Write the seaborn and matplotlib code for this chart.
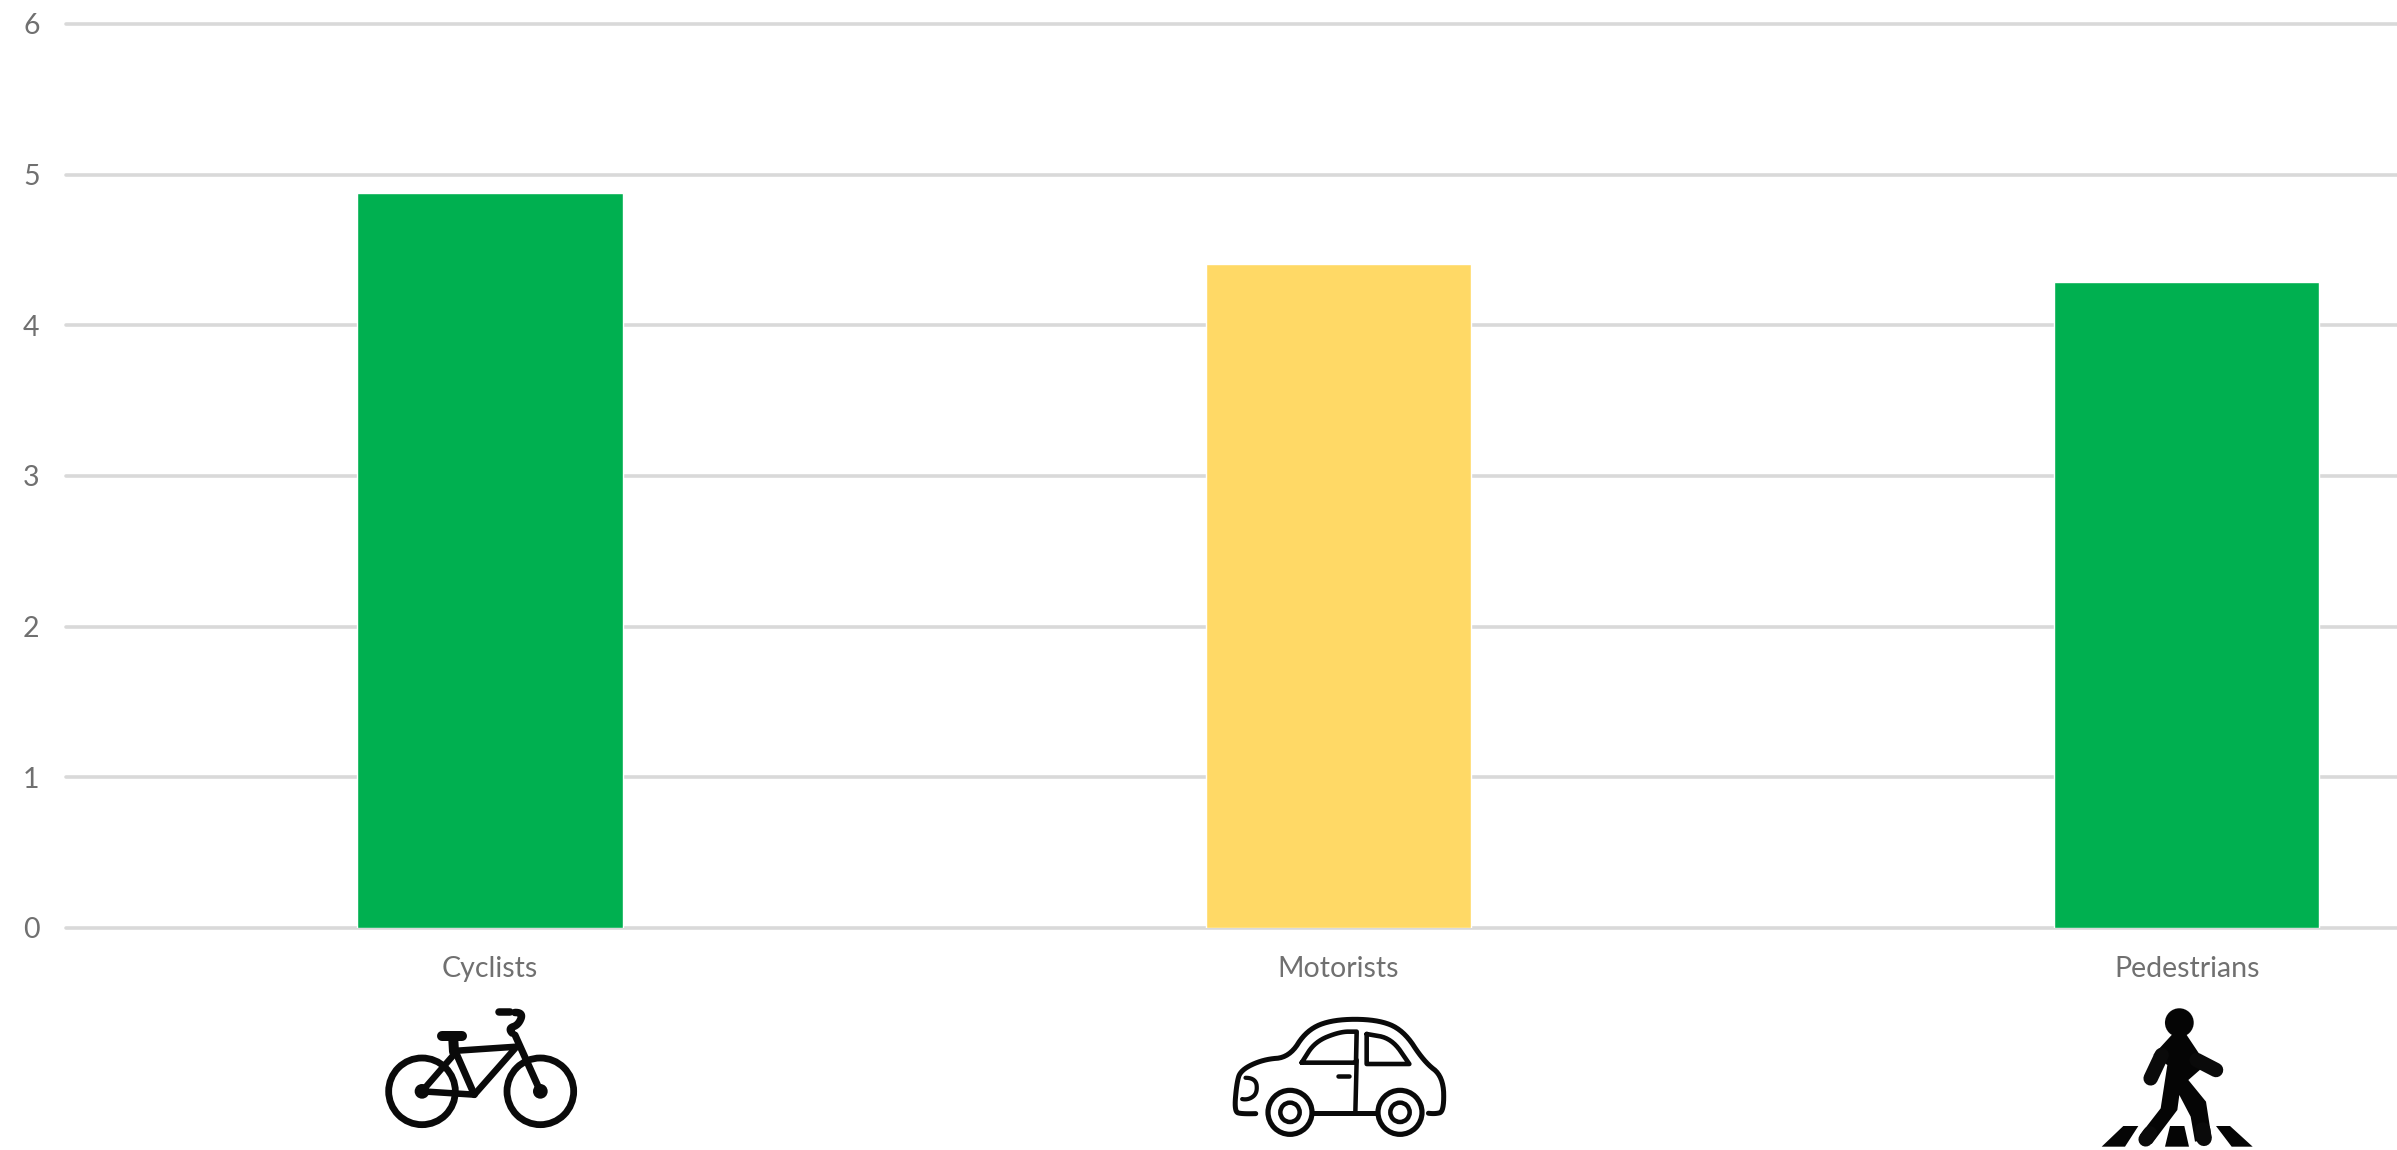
import numpy as np
import pandas as pd
import seaborn as sns
import matplotlib.pyplot as plt
from matplotlib.patches import Circle, Polygon

categories = ["Cyclists", "Motorists", "Pedestrians"]
scores = [4.88, 4.41, 4.29]
bar_colors = ["#00B050", "#FFD966", "#00B050"]
y_ticks = [0, 1, 2, 3, 4, 5, 6]

sns.set_theme(style="white")
plt.rcParams['font.family'] = ['Lato', 'DejaVu Sans']

W, H = 2397, 1150
fig = plt.figure(figsize=(W / 100, H / 100), dpi=100, facecolor="white")
ax = fig.add_axes([66 / W, (H - 928) / H, (W - 66) / W, (928 - 24) / H])

df = pd.DataFrame({"group": categories, "score": scores})
sns.barplot(data=df, x="group", y="score", hue="group", palette=bar_colors,
            width=0.313, saturation=1, legend=False, ax=ax, zorder=3)

# the original is cut off on the right, third category slot runs off the image
ax.set_xlim(-0.5, 2.248)
ax.set_ylim(0, 6)
ax.set_yticks(y_ticks)
ax.set_xlabel("")
ax.set_ylabel("")
for s in ax.spines.values():
    s.set_visible(False)
ax.grid(axis="y", color="#D9D9D9", lw=2.6, zorder=0)
for g in ax.get_ygridlines():
    g.set_clip_on(False)
ax.tick_params(axis="y", length=0, pad=19, labelsize=20.5, labelcolor="#707070")
ax.tick_params(axis="x", length=0, pad=20, labelsize=20.5, labelcolor="#707070")

# overlay in image pixels for the hand drawn icons under the labels
ov = fig.add_axes([0, 0, 1, 1])
ov.set_xlim(0, W)
ov.set_ylim(H, 0)
ov.axis("off")
ov.patch.set_alpha(0)


def smooth(pts, n=3, closed=False):
    # corner cutting so the outlines come out round
    p = np.array(pts, float)
    for _ in range(n):
        if closed:
            nxt = np.roll(p, -1, axis=0)
            q = np.empty((2 * len(p), 2))
            q[0::2] = 0.75 * p + 0.25 * nxt
            q[1::2] = 0.25 * p + 0.75 * nxt
        else:
            q = np.empty((2 * len(p) - 2, 2))
            q[0::2] = 0.75 * p[:-1] + 0.25 * p[1:]
            q[1::2] = 0.25 * p[:-1] + 0.75 * p[1:]
        p = q
    if closed:
        p = np.vstack([p, p[:1]])
    return p


def stroke(pts, off, lw, round_it=False, closed=False, z=5):
    p = smooth(pts, closed=closed) if round_it else np.array(pts, float)
    ov.plot(p[:, 0] / 3 + off[0], p[:, 1] / 3 + off[1], color="#0A0A0A",
            lw=lw * 0.72, solid_capstyle="round", solid_joinstyle="round", zorder=z)


def ring(c, r, off, lw, fill="none", z=6):
    ov.add_patch(Circle((c[0] / 3 + off[0], c[1] / 3 + off[1]), r / 3, fc=fill,
                        ec="#0A0A0A", lw=lw * 0.72, zorder=z))


def poly(pts, off):
    p = np.array(pts, float) / 3 + off
    ov.add_patch(Polygon(p, closed=True, fc="#050505", ec="none", zorder=5))


# bicycle
bike = (340, 920)
ring((246, 514), 100, bike, 6.8)
ring((601, 514), 100, bike, 6.8)
ring((246, 514), 16, bike, 4, "#0A0A0A")
ring((601, 514), 16, bike, 4, "#0A0A0A")
stroke([(246, 514), (403, 524), (530, 380), (352, 392), (246, 514)], bike, 6.5)
stroke([(342, 385), (403, 524)], bike, 7)
stroke([(601, 514), (525, 345)], bike, 7)
stroke([(340, 360), (342, 395)], bike, 10)
stroke([(305, 348), (365, 348)], bike, 10)
stroke([(478, 277), (510, 277)], bike, 7.5)
stroke([(505, 277), (550, 278), (535, 315), (505, 325), (525, 350)], bike, 7.5, True)

# car
car = (1200, 920)
stroke([(200, 580), (125, 582), (103, 575), (110, 490), (122, 450), (190, 418),
        (268, 412), (320, 330), (400, 298), (530, 298), (610, 330), (672, 425),
        (730, 470), (732, 575), (705, 582), (670, 578)], car, 5, True)
stroke([(335, 580), (535, 580)], car, 5)
stroke([(305, 428), (305, 428), (345, 365), (420, 335), (470, 335), (470, 335),
        (468, 428), (468, 428)], car, 4.6, True, True)
stroke([(500, 342), (500, 342), (575, 355), (628, 432), (628, 432), (500, 432),
        (500, 432)], car, 4.6, True, True)
stroke([(470, 420), (466, 578)], car, 4.5)
stroke([(414, 468), (446, 468)], car, 4.5)
stroke([(112, 472), (168, 475), (172, 520), (145, 540), (112, 535)], car, 4.2, True)
ring((270, 577), 66, car, 5.2, "white")
ring((270, 577), 29, car, 4.5, "white", 7)
ring((600, 577), 66, car, 5.2, "white")
ring((600, 577), 29, car, 4.5, "white", 7)

# pedestrian on a crossing
ped = (2050, 920)
ring((388, 308), 43, ped, 0.1, "#050505")
poly([(365, 345), (410, 345), (450, 405), (455, 445), (415, 480), (468, 545),
      (485, 655), (435, 665), (422, 590), (388, 525), (382, 570), (305, 672),
      (270, 645), (332, 565), (352, 435), (310, 405)], ped)
stroke([(335, 405), (302, 475)], ped, 14.5)
stroke([(440, 420), (498, 450)], ped, 14.5)
stroke([(287, 658), (300, 640)], ped, 14.5)
stroke([(462, 655), (458, 630)], ped, 15.5)
poly([(155, 680), (220, 618), (265, 618), (225, 680)], ped)
poly([(345, 680), (360, 618), (403, 618), (417, 680)], ped)
poly([(498, 618), (540, 618), (608, 680), (545, 680)], ped)

fig.savefig("out.png", dpi=100)
